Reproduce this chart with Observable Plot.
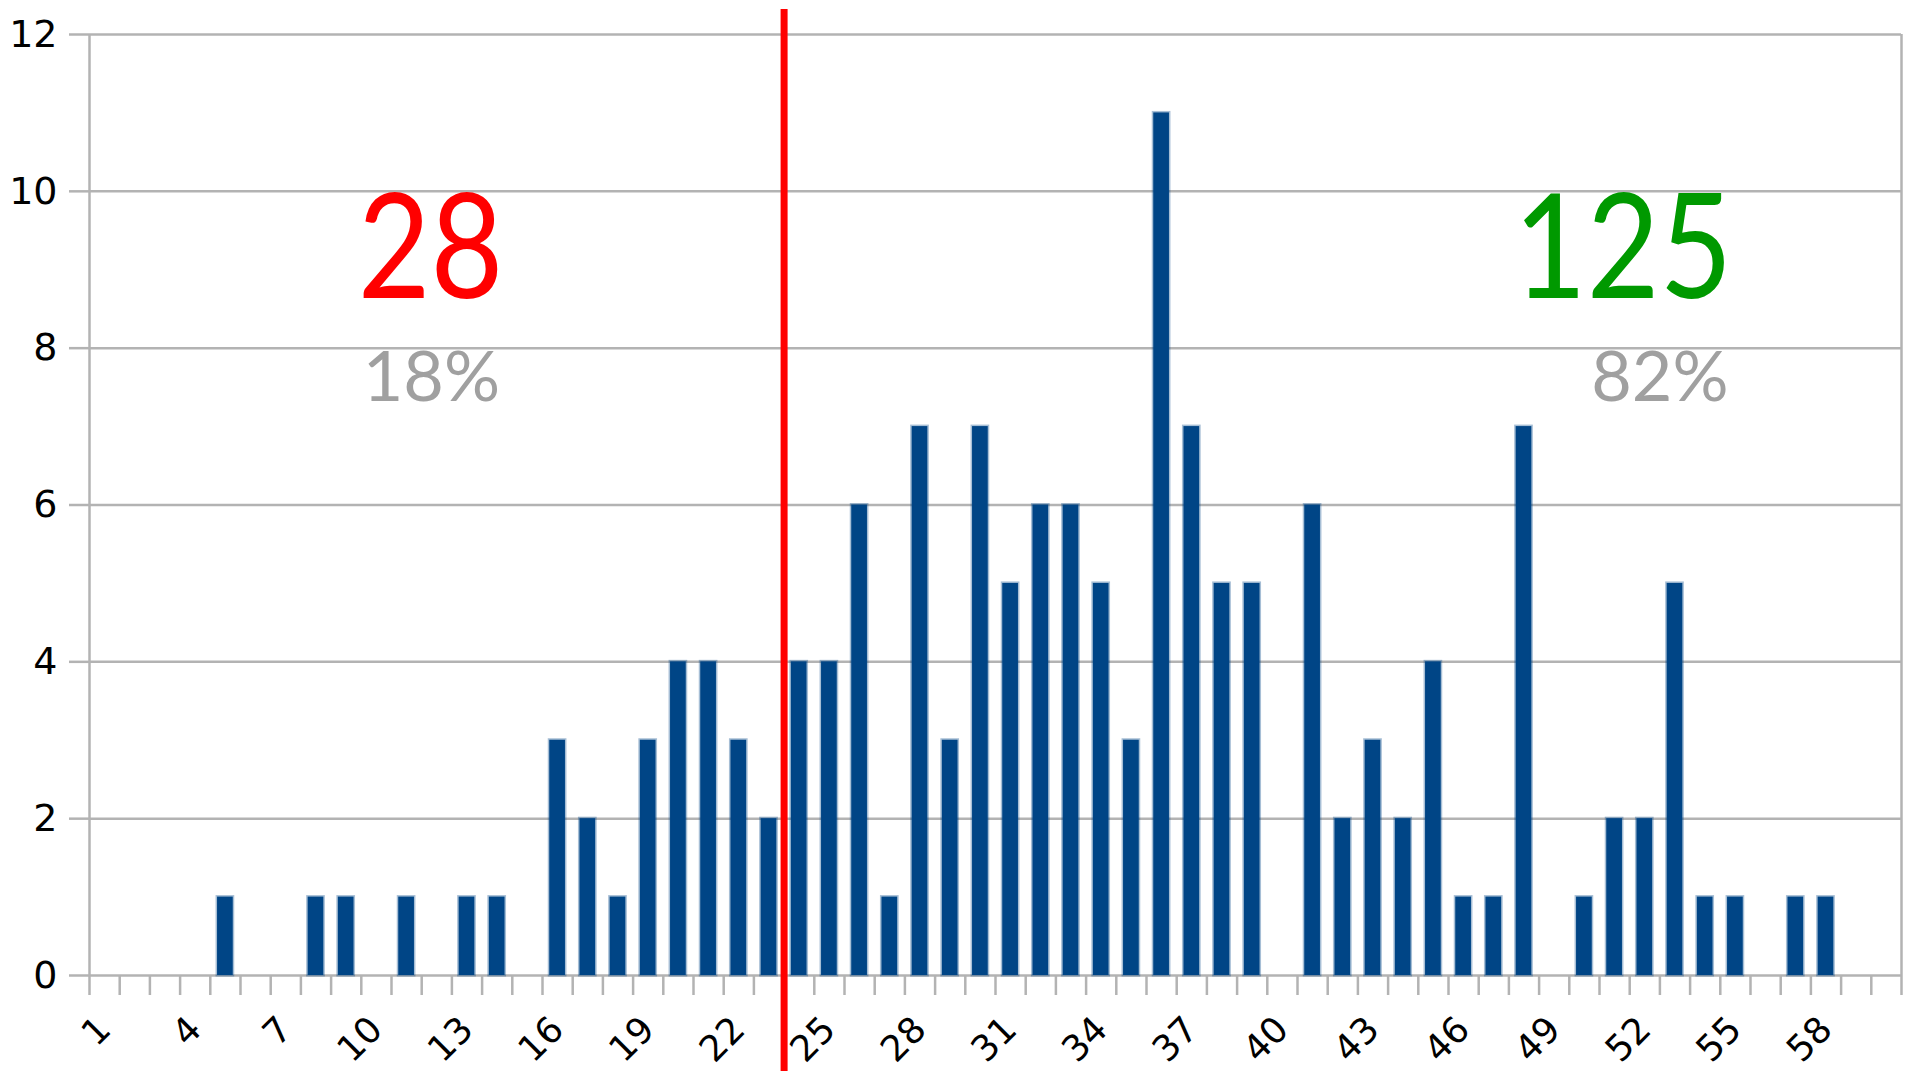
<!DOCTYPE html>
<html>
<head>
<meta charset="utf-8">
<script src="https://cdn.jsdelivr.net/npm/d3@7"></script>
<script src="https://cdn.jsdelivr.net/npm/@observablehq/plot@0.6"></script>
<style>
  html, body { margin: 0; padding: 0; background: #fff; }
</style>
</head>
<body>
<div id="chart"></div>
<script>
// ---- data ----
const categories = [1,2,3,4,5,6,7,8,9,10,11,12,13,14,15,16,17,18,19,20,21,22,23,24,25,26,27,28,29,30,
  31,32,33,34,35,36,37,38,39,40,41,42,43,44,45,46,47,48,49,50,51,52,53,54,55,56,57,58,59,60];
const counts = [0,0,0,0,1,0,0,1,1,0, 1,0,1,1,0,3,2,1,3,4, 4,3,2,4,4,6,1,7,3,7,
  5,6,6,5,3,11,7,5,5,0, 6,2,3,2,4,1,1,7,0,1, 2,2,5,1,1,0,1,1,0,0];
const yTicks = [0, 2, 4, 6, 8, 10, 12];
const xTickLabels = [1,4,7,10,13,16,19,22,25,28,31,34,37,40,43,46,49,52,55,58];
const splitAfter = 23; // the red line sits between category 23 and 24

// ---- derived ----
const data = categories.map((k, i) => ({k, v: counts[i]}));
const leftCount = d3.sum(data.filter(d => d.k <= splitAfter), d => d.v);
const rightCount = d3.sum(data.filter(d => d.k > splitAfter), d => d.v);
const total = leftCount + rightCount;
const pct = n => Math.round(100 * n / total) + "%";
const boundaries = d3.range(0.5, categories.length + 1, 1);

const gray = "#b3b3b3";
const bigFont = "Lato, 'DejaVu Sans', sans-serif";

const chart = Plot.plot({
  width: 1907,
  height: 1071,
  marginLeft: 89,
  marginRight: 6,
  marginTop: 34,
  marginBottom: 96,
  style: {fontFamily: "'DejaVu Sans', sans-serif", fontSize: "38px", color: "#000", background: "#fff", overflow: "visible"},
  x: {type: "linear", domain: [0.5, categories.length + 0.5], axis: null},
  y: {domain: [0, 12], axis: null},
  marks: [
    Plot.gridY(yTicks, {stroke: gray, strokeOpacity: 1, strokeWidth: 2.5}),
    Plot.axisY(yTicks, {tickSize: 20, tickPadding: 12, stroke: gray, strokeWidth: 2.5, fill: "#000", fontSize: 38, tickFormat: d => String(d), label: null}),
    Plot.axisX(boundaries, {tickSize: 20, tickFormat: () => "", stroke: gray, strokeWidth: 2.5, label: null}),
    Plot.ruleX([boundaries[0], boundaries[boundaries.length - 1]], {stroke: gray, strokeWidth: 2.5}),
    Plot.axisX(xTickLabels, {tickSize: 0, tickPadding: 48, tickRotate: -45, fill: "#000", fontSize: 36, tickFormat: d => String(d), label: null}),
    Plot.rectY(data.filter(d => d.v > 0), {
      x1: d => d.k - 0.26, x2: d => d.k + 0.26, y: "v",
      fill: "#004586", stroke: "#004586", strokeOpacity: 0.35, strokeWidth: 3
    }),
    Plot.ruleX([splitAfter + 0.5], {stroke: "#ff0000", strokeWidth: 7, insetTop: -25, insetBottom: -100}),
    Plot.text([String(leftCount)], {x: 11.79, y: 8.646, text: d => d, fill: "#ff0000", fontSize: 146, fontFamily: bigFont, textAnchor: "middle", lineAnchor: "bottom", ariaLabel: "big"}),
    Plot.text([pct(leftCount)], {x: 11.82, y: 7.332, text: d => d, fill: "#a0a0a0", fontSize: 70, fontFamily: bigFont, textAnchor: "middle", lineAnchor: "bottom"}),
    Plot.text([String(rightCount)], {x: 51.28, y: 8.646, text: d => d, fill: "#009900", fontSize: 146, fontFamily: bigFont, textAnchor: "middle", lineAnchor: "bottom", ariaLabel: "big"}),
    Plot.text([pct(rightCount)], {x: 52.5, y: 7.332, text: d => d, fill: "#a0a0a0", fontSize: 70, fontFamily: bigFont, textAnchor: "middle", lineAnchor: "bottom"})
  ]
});

// narrow the large count figures horizontally to match the condensed face of the original
d3.select(chart).selectAll('g[aria-label="text"] text').each(function() {
  if (+this.parentNode.getAttribute("font-size") >= 100 || +this.getAttribute("font-size") >= 100) {
    const t = this.getAttribute("transform") || "";
    this.setAttribute("transform", t + " scale(0.86,1)");
  }
});

document.getElementById("chart").appendChild(chart);
</script>
</body>
</html>
